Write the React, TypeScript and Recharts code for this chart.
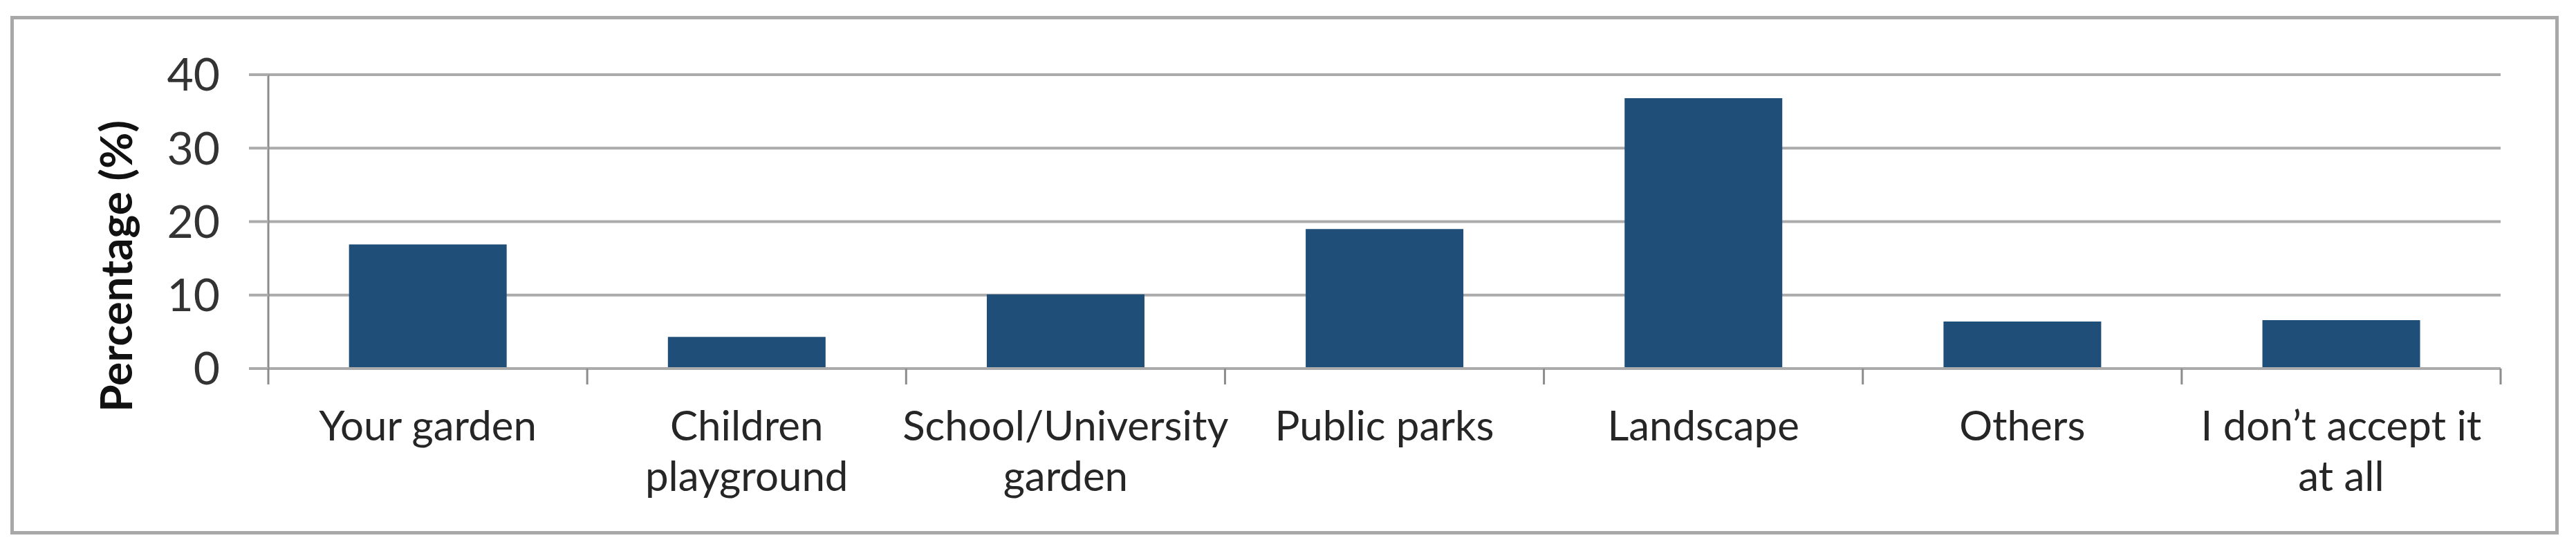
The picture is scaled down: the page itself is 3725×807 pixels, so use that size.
import React from 'react';
import { BarChart, Bar, XAxis, YAxis, CartesianGrid } from 'recharts';

// Where people would accept the plant
const categories = [
  'Your garden',
  'Children playground',
  'School/University garden',
  'Public parks',
  'Landscape',
  'Others',
  'I don\u2019t accept it at all',
];

// two-line tick labels, as wrapped in the original
const tickLabels = [
  ['Your garden'],
  ['Children', 'playground'],
  ['School/University', 'garden'],
  ['Public parks'],
  ['Landscape'],
  ['Others'],
  ['I don\u2019t accept it', 'at all'],
];

const percentages = [16.9, 4.3, 10.1, 19.0, 36.8, 6.4, 6.6];

const yTicks = [0, 10, 20, 30, 40];

const data = categories.map((name, i) => ({
  name,
  lines: tickLabels[i],
  value: percentages[i],
}));

const W = 3725;
const H = 807;
const FONT = 'Lato, "Open Sans", sans-serif';
const GRID = '#ABABAB';
const AXIS = '#8C8C8C';

const CategoryTick = (props: any) => {
  const { x, y, payload, index } = props;
  const half = payload?.offset ?? (3616 - 388) / categories.length / 2;
  const lines: string[] = data[index]?.lines ?? [String(payload.value)];
  return (
    <g>
      <line x1={x - half} y1={y} x2={x - half} y2={y + 23} stroke={AXIS} strokeWidth={3} />
      {index === categories.length - 1 && (
        <line x1={x + half} y1={y} x2={x + half} y2={y + 23} stroke={AXIS} strokeWidth={3} />
      )}
      {lines.map((t, i) => (
        <text
          key={i}
          x={x}
          y={y + 104 + i * 73}
          textAnchor="middle"
          fill="#262626"
          fontSize={60}
          fontFamily={FONT}
        >
          {t}
        </text>
      ))}
    </g>
  );
};

const YTitle = () => (
  <text
    x={191}
    y={385}
    transform="rotate(-90, 191, 385)"
    textAnchor="middle"
    fontSize={64}
    fontWeight={700}
    fontFamily={FONT}
    fill="#111"
  >
    Percentage (%)
  </text>
);

export default function App() {
  return (
    <div style={{ position: 'absolute', left: 0, top: 0, width: W, height: H, background: '#fff' }}>
      <div
        style={{
          position: 'absolute',
          left: 15,
          top: 23,
          width: 3685,
          height: 750,
          border: '5px solid #A8A8A8',
          boxSizing: 'border-box',
        }}
      />
      <div style={{ position: 'absolute', left: 0, top: 0 }}>
        <BarChart
          width={W}
          height={H}
          data={data}
          margin={{ top: 108, right: 109, bottom: 0, left: 0 }}
          barCategoryGap="25.3%"
        >
          <CartesianGrid vertical={false} stroke={GRID} strokeWidth={4} />
          <XAxis
            dataKey="name"
            height={274}
            interval={0}
            axisLine={{ stroke: GRID, strokeWidth: 4 }}
            tickLine={false}
            tickSize={0}
            tickMargin={0}
            tick={<CategoryTick />}
          />
          <YAxis
            width={388}
            domain={[0, 40]}
            ticks={yTicks}
            interval={0}
            axisLine={{ stroke: AXIS, strokeWidth: 3 }}
            tickLine={{ stroke: GRID, strokeWidth: 4 }}
            tickSize={28}
            tickMargin={42}
            tick={{ fill: '#333', fontSize: 66, fontFamily: FONT }}
            label={<YTitle />}
          />
          <Bar dataKey="value" fill="#1F4E79" isAnimationActive={false} />
        </BarChart>
      </div>
    </div>
  );
}
